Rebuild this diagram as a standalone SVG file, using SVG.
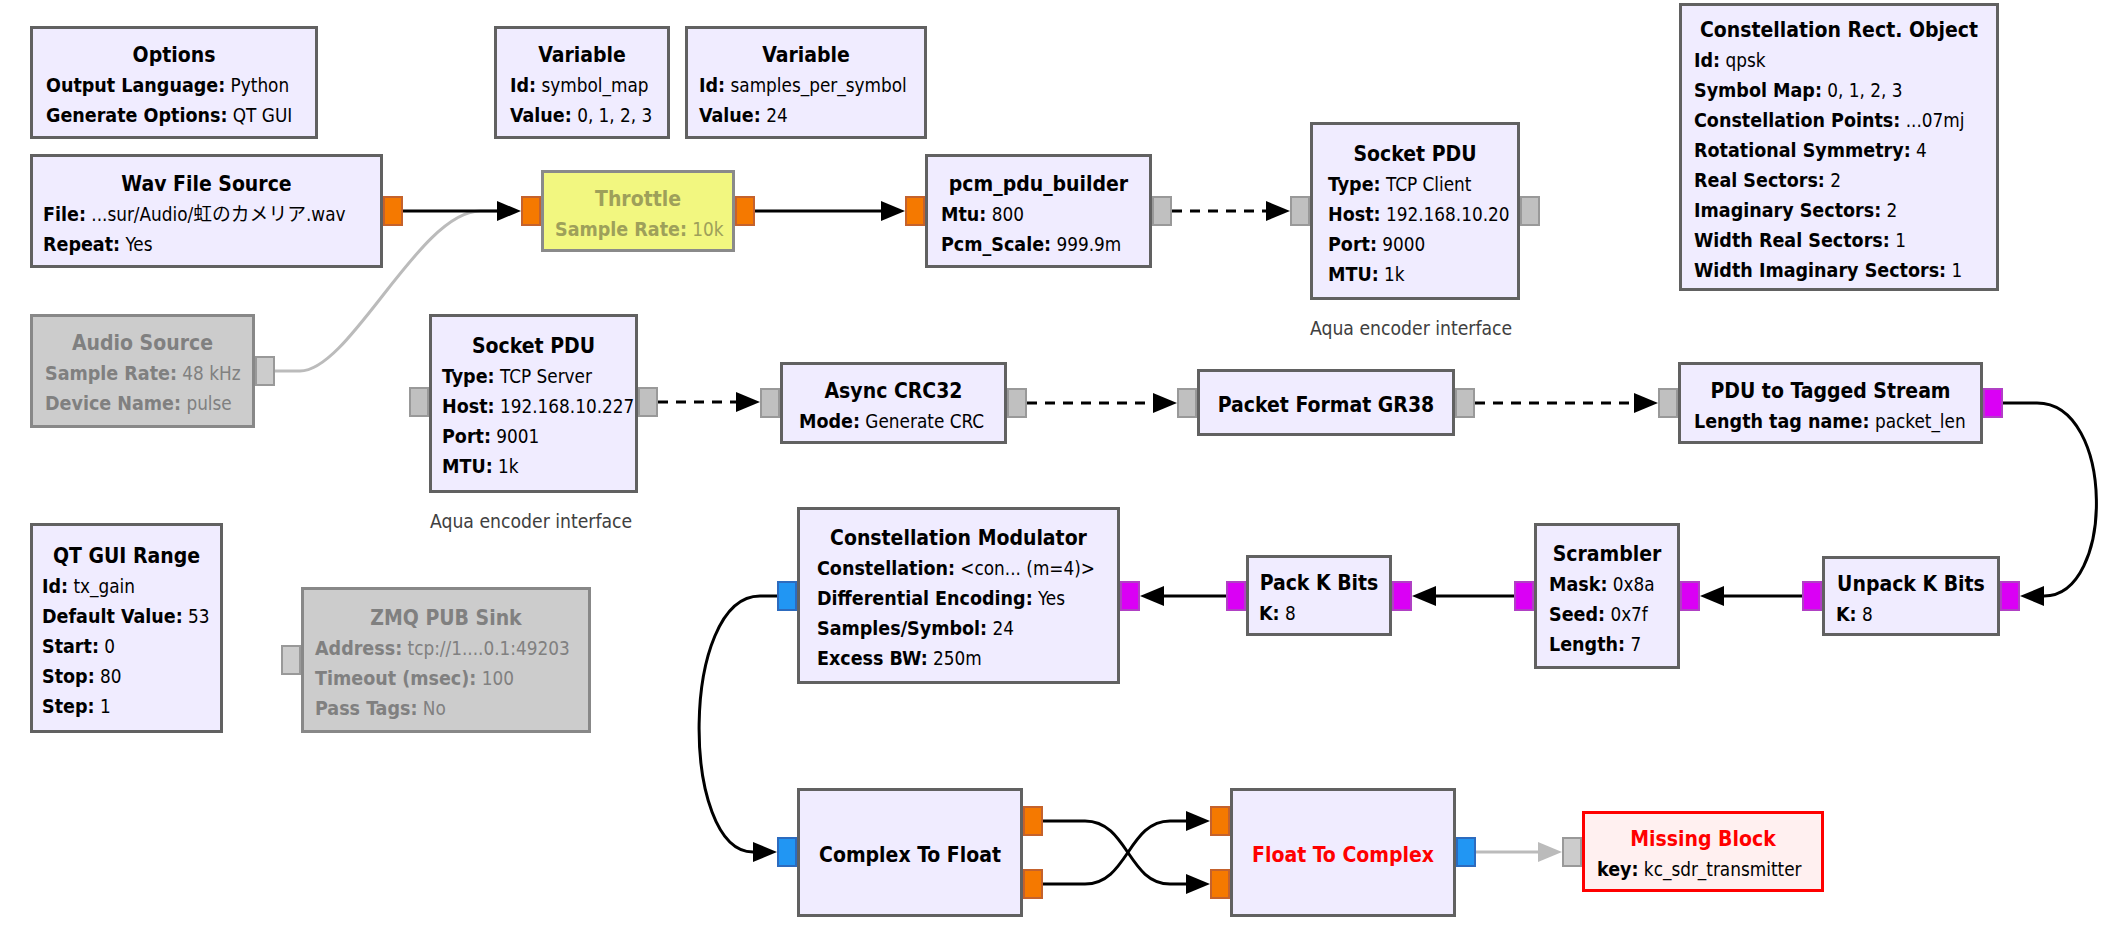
<svg xmlns="http://www.w3.org/2000/svg" width="2120" height="932" viewBox="0 0 2120 932">
<style>
text{font-family:'DejaVu Sans Condensed','DejaVu Sans','Noto Sans CJK JP',sans-serif;font-stretch:condensed;fill:#000}
.b{fill:#F0ECFF;stroke:#616161;stroke-width:3}
.dis{fill:#CCCCCC;stroke:#888888;stroke-width:3}
.byp{fill:#F2F780;stroke:#8A8A8A;stroke-width:3}
.mis{fill:#FFF0F0;stroke:#FF0000;stroke-width:3}
.t{font-size:21px;font-weight:bold;text-anchor:middle}
.p{font-size:18.8px}
.k{font-weight:bold;font-size:19.5px}
.g{fill:#808080}
.y{fill:#9EA05A}
.red{fill:#FF0000}
.cm{font-size:19.2px;fill:#404040}
.po{fill:#F57900;stroke:#C4622D;stroke-width:2}
.pm{fill:#DA00F5;stroke:#B040C4;stroke-width:2}
.pb{fill:#2196F3;stroke:#2D6BBE;stroke-width:2}
.pg{fill:#C0C0C0;stroke:#999999;stroke-width:2}
.pd{fill:#CCCCCC;stroke:#999999;stroke-width:2}
.c{fill:none;stroke:#000;stroke-width:3}
.msg{stroke-dasharray:10 8}
.off{stroke:#BBBBBB}
</style>
<defs>
<marker id="ar" viewBox="0 0 24 20" refX="0" refY="10" markerWidth="24" markerHeight="20" markerUnits="userSpaceOnUse" orient="auto"><path d="M0,0 L24,10 L0,20 Z" fill="#000"/></marker>
<marker id="arg" viewBox="0 0 24 20" refX="0" refY="10" markerWidth="24" markerHeight="20" markerUnits="userSpaceOnUse" orient="auto"><path d="M0,0 L24,10 L0,20 Z" fill="#BBBBBB"/></marker>
</defs>
<rect width="2120" height="932" fill="#FFFFFF"/>

<g id="connectors">
<path class="c off" d="M275,371 H300 C350,371 420,211 480,211 H497"/>
<path class="c" d="M403,211 H497" marker-end="url(#ar)"/>
<path class="c" d="M755,211 H881" marker-end="url(#ar)"/>
<path class="c msg" d="M1172,211 H1266" marker-end="url(#ar)"/>
<path class="c msg" d="M658,402 H736" marker-end="url(#ar)"/>
<path class="c msg" d="M1027,403 H1153" marker-end="url(#ar)"/>
<path class="c msg" d="M1475,403 H1634" marker-end="url(#ar)"/>
<path class="c" d="M2003,403 H2037 C2115,403 2115,596 2044,596" marker-end="url(#ar)"/>
<path class="c" d="M1802,596 H1724" marker-end="url(#ar)"/>
<path class="c" d="M1514,596 H1436" marker-end="url(#ar)"/>
<path class="c" d="M1226,596 H1164" marker-end="url(#ar)"/>
<path class="c" d="M777,596 H760 C680,596 680,852 753,852" marker-end="url(#ar)"/>
<path class="c" d="M1043,821 H1085 C1128,821 1128,884 1170,884 H1186" marker-end="url(#ar)"/>
<path class="c" d="M1043,884 H1085 C1128,884 1128,821 1170,821 H1186" marker-end="url(#ar)"/>
<path class="c off" d="M1476,852 H1538" marker-end="url(#arg)"/>
</g>

<g id="options">
<rect class="b" x="31.5" y="27.5" width="285" height="110"/>
<text class="t" x="174" y="62">Options</text>
<text class="p" x="46" y="92"><tspan class="k">Output Language:</tspan> Python</text>
<text class="p" x="46" y="122"><tspan class="k">Generate Options:</tspan> QT GUI</text>
</g>

<g id="variable_symbol_map">
<rect class="b" x="495.5" y="27.5" width="173" height="110"/>
<text class="t" x="582" y="62">Variable</text>
<text class="p" x="510" y="92"><tspan class="k">Id:</tspan> symbol_map</text>
<text class="p" x="510" y="122"><tspan class="k">Value:</tspan> 0, 1, 2, 3</text>
</g>

<g id="variable_samples_per_symbol">
<rect class="b" x="686.5" y="27.5" width="239" height="110"/>
<text class="t" x="806" y="62">Variable</text>
<text class="p" x="699" y="92"><tspan class="k">Id:</tspan> samples_per_symbol</text>
<text class="p" x="699" y="122"><tspan class="k">Value:</tspan> 24</text>
</g>

<g id="wav_file_source">
<rect class="b" x="31.5" y="155.5" width="350" height="111"/>
<text class="t" x="206.5" y="190.5">Wav File Source</text>
<text class="p" x="43" y="220.5"><tspan class="k">File:</tspan> ...sur/Audio/虹のカメリア.wav</text>
<text class="p" x="43" y="250.5"><tspan class="k">Repeat:</tspan> Yes</text>
<rect class="po" x="384" y="197" width="18" height="28"/>
</g>

<g id="throttle">
<rect class="byp" x="542.5" y="171.5" width="191" height="79"/>
<text class="t y" x="638" y="205.5">Throttle</text>
<text class="p y" x="555" y="235.5"><tspan class="k">Sample Rate:</tspan> 10k</text>
<rect class="po" x="522" y="197" width="18" height="28"/>
<rect class="po" x="736" y="197" width="18" height="28"/>
</g>

<g id="pcm_pdu_builder">
<rect class="b" x="926.5" y="155.5" width="224" height="111"/>
<text class="t" x="1038.5" y="190.5">pcm_pdu_builder</text>
<text class="p" x="941" y="220.5"><tspan class="k">Mtu:</tspan> 800</text>
<text class="p" x="941" y="250.5"><tspan class="k">Pcm_Scale:</tspan> 999.9m</text>
<rect class="po" x="906" y="197" width="18" height="28"/>
<rect class="pg" x="1153" y="197" width="18" height="28"/>
</g>

<g id="socket_pdu_client">
<rect class="b" x="1311.5" y="123.5" width="207" height="175"/>
<text class="t" x="1415" y="160.5">Socket PDU</text>
<text class="p" x="1328" y="190.5"><tspan class="k">Type:</tspan> TCP Client</text>
<text class="p" x="1328" y="220.5"><tspan class="k">Host:</tspan> 192.168.10.20</text>
<text class="p" x="1328" y="250.5"><tspan class="k">Port:</tspan> 9000</text>
<text class="p" x="1328" y="280.5"><tspan class="k">MTU:</tspan> 1k</text>
<rect class="pg" x="1291" y="197" width="18" height="28"/>
<rect class="pg" x="1521" y="197" width="18" height="28"/>
<text class="cm" x="1310" y="335">Aqua encoder interface</text>
</g>

<g id="constellation_rect">
<rect class="b" x="1680.5" y="4.5" width="317" height="285"/>
<text class="t" x="1839" y="36.5">Constellation Rect. Object</text>
<text class="p" x="1694" y="66.5"><tspan class="k">Id:</tspan> qpsk</text>
<text class="p" x="1694" y="96.5"><tspan class="k">Symbol Map:</tspan> 0, 1, 2, 3</text>
<text class="p" x="1694" y="126.5"><tspan class="k">Constellation Points:</tspan> ...07mj</text>
<text class="p" x="1694" y="156.5"><tspan class="k">Rotational Symmetry:</tspan> 4</text>
<text class="p" x="1694" y="186.5"><tspan class="k">Real Sectors:</tspan> 2</text>
<text class="p" x="1694" y="216.5"><tspan class="k">Imaginary Sectors:</tspan> 2</text>
<text class="p" x="1694" y="246.5"><tspan class="k">Width Real Sectors:</tspan> 1</text>
<text class="p" x="1694" y="276.5"><tspan class="k">Width Imaginary Sectors:</tspan> 1</text>
</g>

<g id="audio_source">
<rect class="dis" x="31.5" y="315.5" width="222" height="111"/>
<text class="t g" x="142.5" y="350">Audio Source</text>
<text class="p g" x="45" y="380"><tspan class="k">Sample Rate:</tspan> 48 kHz</text>
<text class="p g" x="45" y="410"><tspan class="k">Device Name:</tspan> pulse</text>
<rect class="pd" x="256" y="357" width="18" height="28"/>
</g>

<g id="socket_pdu_server">
<rect class="b" x="430.5" y="315.5" width="206" height="176"/>
<text class="t" x="533.5" y="353">Socket PDU</text>
<text class="p" x="442" y="383"><tspan class="k">Type:</tspan> TCP Server</text>
<text class="p" x="442" y="413"><tspan class="k">Host:</tspan> 192.168.10.227</text>
<text class="p" x="442" y="443"><tspan class="k">Port:</tspan> 9001</text>
<text class="p" x="442" y="473"><tspan class="k">MTU:</tspan> 1k</text>
<rect class="pg" x="410" y="388" width="18" height="28"/>
<rect class="pg" x="639" y="388" width="18" height="28"/>
<text class="cm" x="430" y="528">Aqua encoder interface</text>
</g>

<g id="qt_gui_range">
<rect class="b" x="31.5" y="524.5" width="190" height="207"/>
<text class="t" x="126.5" y="562.5">QT GUI Range</text>
<text class="p" x="42" y="592.5"><tspan class="k">Id:</tspan> tx_gain</text>
<text class="p" x="42" y="622.5"><tspan class="k">Default Value:</tspan> 53</text>
<text class="p" x="42" y="652.5"><tspan class="k">Start:</tspan> 0</text>
<text class="p" x="42" y="682.5"><tspan class="k">Stop:</tspan> 80</text>
<text class="p" x="42" y="712.5"><tspan class="k">Step:</tspan> 1</text>
</g>

<g id="zmq_pub_sink">
<rect class="dis" x="302.5" y="588.5" width="287" height="143"/>
<text class="t g" x="446" y="624.5">ZMQ PUB Sink</text>
<text class="p g" x="315" y="654.5"><tspan class="k">Address:</tspan> tcp://1....0.1:49203</text>
<text class="p g" x="315" y="684.5"><tspan class="k">Timeout (msec):</tspan> 100</text>
<text class="p g" x="315" y="714.5"><tspan class="k">Pass Tags:</tspan> No</text>
<rect class="pd" x="282" y="646" width="18" height="28"/>
</g>

<g id="async_crc32">
<rect class="b" x="781.5" y="363.5" width="224" height="79"/>
<text class="t" x="893.5" y="397.5">Async CRC32</text>
<text class="p" x="799" y="427.5"><tspan class="k">Mode:</tspan> Generate CRC</text>
<rect class="pg" x="761" y="389" width="18" height="28"/>
<rect class="pg" x="1008" y="389" width="18" height="28"/>
</g>

<g id="packet_format_gr38">
<rect class="b" x="1198.5" y="370.5" width="255" height="64"/>
<text class="t" x="1326" y="412">Packet Format GR38</text>
<rect class="pg" x="1178" y="389" width="18" height="28"/>
<rect class="pg" x="1456" y="389" width="18" height="28"/>
</g>

<g id="pdu_to_tagged_stream">
<rect class="b" x="1679.5" y="363.5" width="302" height="79"/>
<text class="t" x="1830.5" y="397.5">PDU to Tagged Stream</text>
<text class="p" x="1694" y="427.5"><tspan class="k">Length tag name:</tspan> packet_len</text>
<rect class="pg" x="1659" y="389" width="18" height="28"/>
<rect class="pm" x="1984" y="389" width="18" height="28"/>
</g>

<g id="unpack_k_bits">
<rect class="b" x="1823.5" y="557.5" width="175" height="77"/>
<text class="t" x="1911" y="590.5">Unpack K Bits</text>
<text class="p" x="1836" y="620.5"><tspan class="k">K:</tspan> 8</text>
<rect class="pm" x="2001" y="582" width="18" height="28"/>
<rect class="pm" x="1803" y="582" width="18" height="28"/>
</g>

<g id="scrambler">
<rect class="b" x="1535.5" y="524.5" width="143" height="143"/>
<text class="t" x="1607" y="560.5">Scrambler</text>
<text class="p" x="1549" y="590.5"><tspan class="k">Mask:</tspan> 0x8a</text>
<text class="p" x="1549" y="620.5"><tspan class="k">Seed:</tspan> 0x7f</text>
<text class="p" x="1549" y="650.5"><tspan class="k">Length:</tspan> 7</text>
<rect class="pm" x="1681" y="582" width="18" height="28"/>
<rect class="pm" x="1515" y="582" width="18" height="28"/>
</g>

<g id="pack_k_bits">
<rect class="b" x="1247.5" y="556.5" width="143" height="78"/>
<text class="t" x="1319" y="590">Pack K Bits</text>
<text class="p" x="1259" y="620"><tspan class="k">K:</tspan> 8</text>
<rect class="pm" x="1393" y="582" width="18" height="28"/>
<rect class="pm" x="1227" y="582" width="18" height="28"/>
</g>

<g id="constellation_modulator">
<rect class="b" x="798.5" y="508.5" width="320" height="174"/>
<text class="t" x="958.5" y="545">Constellation Modulator</text>
<text class="p" x="817" y="575"><tspan class="k">Constellation:</tspan> &lt;con... (m=4)&gt;</text>
<text class="p" x="817" y="605"><tspan class="k">Differential Encoding:</tspan> Yes</text>
<text class="p" x="817" y="635"><tspan class="k">Samples/Symbol:</tspan> 24</text>
<text class="p" x="817" y="665"><tspan class="k">Excess BW:</tspan> 250m</text>
<rect class="pm" x="1121" y="582" width="18" height="28"/>
<rect class="pb" x="778" y="582" width="18" height="28"/>
</g>

<g id="complex_to_float">
<rect class="b" x="798.5" y="789.5" width="223" height="126"/>
<text class="t" x="910" y="862">Complex To Float</text>
<rect class="pb" x="778" y="838" width="18" height="28"/>
<rect class="po" x="1024" y="807" width="18" height="28"/>
<rect class="po" x="1024" y="870" width="18" height="28"/>
</g>

<g id="float_to_complex">
<rect class="b" x="1231.5" y="789.5" width="223" height="126"/>
<text class="t red" x="1343" y="862">Float To Complex</text>
<rect class="po" x="1211" y="807" width="18" height="28"/>
<rect class="po" x="1211" y="870" width="18" height="28"/>
<rect class="pb" x="1457" y="838" width="18" height="28"/>
</g>

<g id="missing_block">
<rect class="mis" x="1583.5" y="812.5" width="239" height="78"/>
<text class="t red" x="1703" y="846">Missing Block</text>
<text class="p" x="1597" y="876"><tspan class="k">key:</tspan> kc_sdr_transmitter</text>
<rect class="pd" x="1563" y="838" width="18" height="28"/>
</g>
</svg>
